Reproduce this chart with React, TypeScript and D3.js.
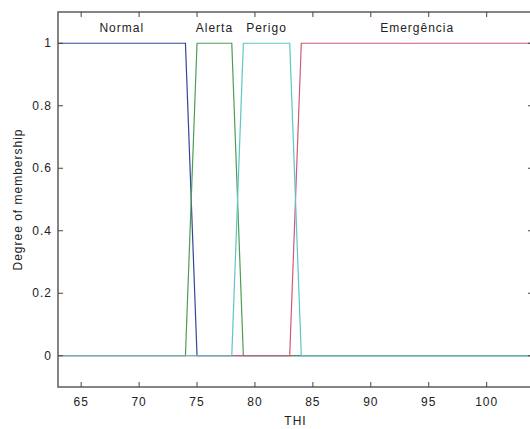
import React, { useEffect, useRef } from 'react';
import * as d3 from 'd3';

// THI range of the input variable
const xDomain = [63, 104];
const yDomain = [-0.1, 1.1];
const xTicks = [65, 70, 75, 80, 85, 90, 95, 100];
const yTicks = [0, 0.2, 0.4, 0.6, 0.8, 1];

// membership functions, drawn in this order (MATLAB plotmf order)
const mfNames = ['Normal', 'Alerta', 'Emergência', 'Perigo'];
const mfParams = [
  [63, 63, 74, 75],
  [74, 75, 78, 79],
  [83, 84, 104, 104],
  [78, 79, 83, 84],
];
const mfColors = ['#34449c', '#4e9e52', '#d4587a', '#5cc6c4'];

const trap = (x: number, [a, b, c, d]: number[]) => {
  if (x < a || x > d) return 0;
  if (x >= b && x <= c) return 1;
  if (x < b) return (x - a) / (b - a);
  return (d - x) / (d - c);
};

const App = () => {
  const svgRef = useRef<SVGSVGElement>(null);

  useEffect(() => {
    const svg = d3.select(svgRef.current);
    svg.selectAll('*').remove();

    const width = 530;
    const height = 429;
    const left = 58, right = 533, top = 12, bottom = 387;
    const font = 'Arial, "Liberation Sans", sans-serif';

    const x = d3.scaleLinear().domain(xDomain).range([left, right]);
    const y = d3.scaleLinear().domain(yDomain).range([bottom, top]);

    svg.append('rect').attr('width', width).attr('height', height).attr('fill', '#fff');

    const line = d3.line<number[]>().x(d => x(d[0])).y(d => y(d[1]));

    mfParams.forEach((p, i) => {
      // breakpoints of the trapezoid plus the range ends
      const xs = Array.from(new Set([xDomain[0], ...p, xDomain[1]])).sort((a, b) => a - b);
      const pts = xs.map(v => [v, trap(v, p)]);
      svg.append('path')
        .datum(pts)
        .attr('d', line)
        .attr('fill', 'none')
        .attr('stroke', mfColors[i])
        .attr('stroke-width', 1.2);
    });

    // mf labels above the plateaus
    mfParams.forEach((p, i) => {
      const cx = (Math.max(p[1], xDomain[0]) + Math.min(p[2], xDomain[1])) / 2;
      svg.append('text')
        .attr('x', x(cx))
        .attr('y', 32)
        .attr('text-anchor', 'middle')
        .attr('font-family', font)
        .attr('font-size', 12)
        .attr('letter-spacing', 1)
        .attr('fill', '#222')
        .text(mfNames[i]);
    });

    // axes box
    svg.append('rect')
      .attr('x', left).attr('y', top)
      .attr('width', right - left).attr('height', bottom - top)
      .attr('fill', 'none').attr('stroke', '#666').attr('stroke-width', 1.6);

    const tk = 5;
    xTicks.forEach(t => {
      svg.append('line').attr('x1', x(t)).attr('x2', x(t)).attr('y1', bottom).attr('y2', bottom - tk).attr('stroke', '#444');
      svg.append('line').attr('x1', x(t)).attr('x2', x(t)).attr('y1', top).attr('y2', top + tk).attr('stroke', '#444');
      svg.append('text')
        .attr('x', x(t)).attr('y', 406)
        .attr('text-anchor', 'middle')
        .attr('font-family', font).attr('font-size', 12).attr('letter-spacing', 1)
        .attr('fill', '#222')
        .text(t);
    });
    yTicks.forEach(t => {
      svg.append('line').attr('x1', left).attr('x2', left + tk).attr('y1', y(t)).attr('y2', y(t)).attr('stroke', '#444');
      svg.append('line').attr('x1', right).attr('x2', right - tk).attr('y1', y(t)).attr('y2', y(t)).attr('stroke', '#444');
      svg.append('text')
        .attr('x', 52).attr('y', y(t) + 4)
        .attr('text-anchor', 'end')
        .attr('font-family', font).attr('font-size', 12).attr('letter-spacing', 1)
        .attr('fill', '#222')
        .text(String(t));
    });

    svg.append('text')
      .attr('x', (left + right) / 2).attr('y', 425)
      .attr('text-anchor', 'middle')
      .attr('font-family', font).attr('font-size', 12).attr('letter-spacing', 1)
      .attr('fill', '#222')
      .text('THI');

    svg.append('text')
      .attr('transform', `translate(22,${(top + bottom) / 2}) rotate(-90)`)
      .attr('text-anchor', 'middle')
      .attr('font-family', font).attr('font-size', 12).attr('letter-spacing', 1)
      .attr('fill', '#222')
      .text('Degree of membership');
  }, []);

  return (
    <svg ref={svgRef} width={530} height={429} style={{ position: 'absolute', left: 0, top: 0 }} />
  );
};

export default App;
